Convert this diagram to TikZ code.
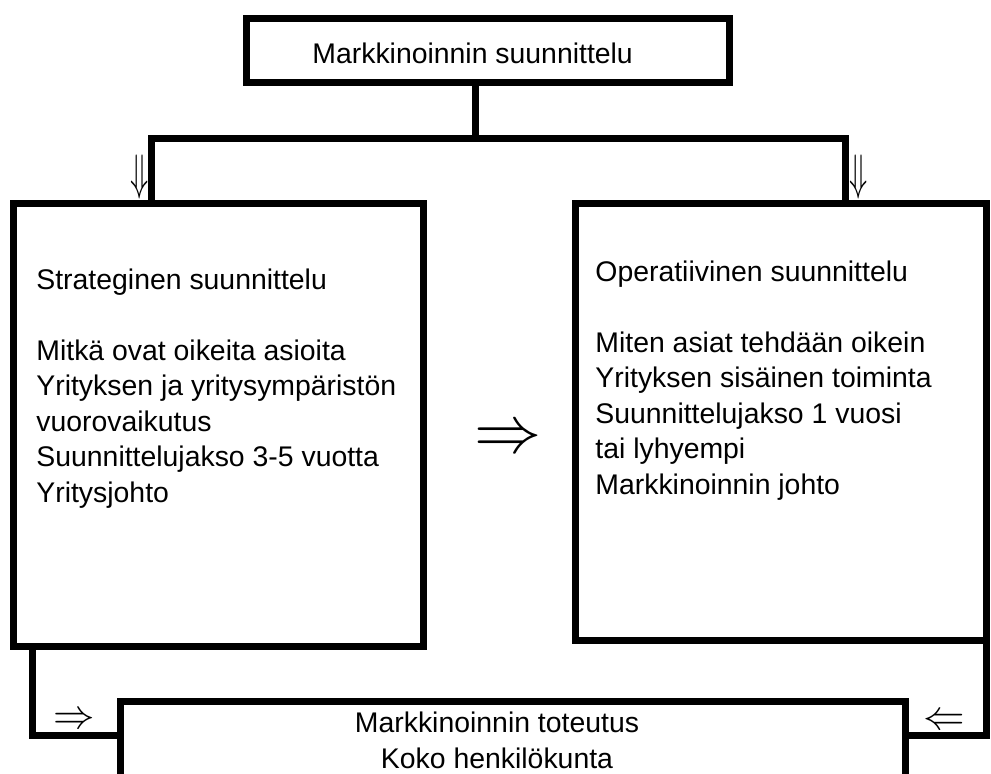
\documentclass[tikz,border=0pt]{standalone}
\usepackage{fontspec}
\setmainfont{Liberation Sans}

\begin{document}
\begin{tikzpicture}[x=0.5pt,y=-0.5pt,
  box/.style={draw, line width=3.5pt, inner sep=0pt, outer sep=0pt},
  txt/.style={font=\fontsize{14.2}{17.75}\selectfont, inner sep=0pt, align=left},
  wire/.style={line width=3.5pt},
  sym/.style={inner sep=0pt}]
\useasboundingbox (0,0) rectangle (991,773);
\clip (0,0) rectangle (991,773);
\node[box, minimum width=241.25pt, minimum height=32pt] (plan) at (487.75,50.5) {};
\node[txt, anchor=base west] (planText) at (312,63) {Markkinoinnin suunnittelu};
\node[box, minimum width=204.75pt, minimum height=221.25pt] (strat) at (218.25,424.75) {};
\node[txt, anchor=base west] (stratText) at (36,502) {Strateginen suunnittelu\\[17.75pt]Mitkä ovat oikeita asioita\\Yrityksen ja yritysympäristön\\vuorovaikutus\\Suunnittelujakso 3-5 vuotta\\Yritysjohto};
\node[box, minimum width=205.25pt, minimum height=218.75pt] (oper) at (780.75,421.75) {};
\node[txt, anchor=base west] (operText) at (595,494) {Operatiivinen suunnittelu\\[17.75pt]Miten asiat tehdään oikein\\Yrityksen sisäinen toiminta\\Suunnittelujakso 1 vuosi\\tai lyhyempi\\Markkinoinnin johto};
\node[box, minimum width=392.5pt, minimum height=74.5pt] (exec) at (512.5,775.5) {};
\node[txt, align=center, anchor=base] (execText) at (497,768) {Markkinoinnin toteutus\\Koko henkilökunta};
% connectors
\coordinate (split) at (475,138);
\coordinate (splitL) at (151.5,138);
\coordinate (splitR) at (845,138);
\draw[wire] (plan.south -| split) -- (split);
\draw[wire] (strat.north -| splitL) -- (splitL) -- (splitR) -- (oper.north -| splitR);
\coordinate (joinL) at (32,735);
\coordinate (joinR) at (986,735);
\draw[wire] (strat.south -| joinL) |- (exec.west |- joinL);
\draw[wire] (oper.south east) |- (exec.east |- joinR);
% arrows
\node[sym, font=\fontsize{24.88}{24.88}\selectfont] (downL) at (140,177) {\scalebox{0.6}[1]{$\Downarrow$}};
\node[sym, font=\fontsize{24.88}{24.88}\selectfont] (downR) at (859,177) {\scalebox{0.6}[1]{$\Downarrow$}};
\node[sym, font=\fontsize{24.88}{24.88}\selectfont] (flow) at (508,440.5) {\scalebox{1.35}{$\Rightarrow$}};
\node[sym, font=\fontsize{20.74}{20.74}\selectfont] (inL) at (74.5,720.5) {$\Rightarrow$};
\node[sym, font=\fontsize{20.74}{20.74}\selectfont] (inR) at (944.5,721.5) {$\Leftarrow$};
\end{tikzpicture}
\end{document}
